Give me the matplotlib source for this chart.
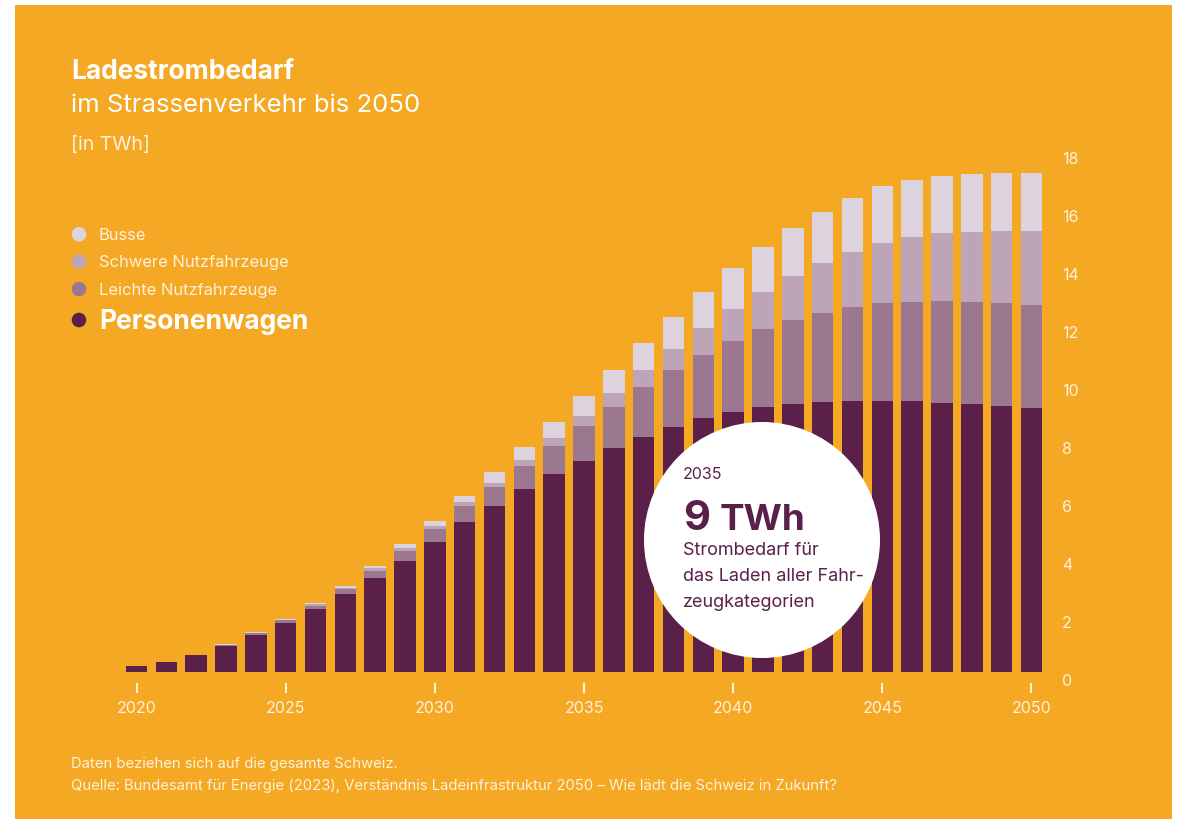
import matplotlib
matplotlib.use("Agg")
import matplotlib.pyplot as plt
from matplotlib.patches import Rectangle, Circle
from matplotlib.transforms import IdentityTransform, offset_copy
import numpy as np

# ---------------- data ----------------
years = list(range(2020, 2051))
personenwagen = [0.21, 0.33, 0.57, 0.91, 1.29, 1.70, 2.16, 2.69, 3.25, 3.83,
                 4.48, 5.17, 5.73, 6.31, 6.82, 7.29, 7.72, 8.11, 8.46, 8.75,
                 8.96, 9.14, 9.24, 9.32, 9.36, 9.36, 9.33, 9.29, 9.23, 9.16, 9.09]
leichte = [0.005, 0.005, 0.01, 0.02, 0.04, 0.08, 0.13, 0.16, 0.24, 0.34,
           0.45, 0.55, 0.64, 0.79, 0.98, 1.19, 1.43, 1.71, 1.95, 2.18,
           2.45, 2.68, 2.90, 3.07, 3.23, 3.36, 3.44, 3.50, 3.53, 3.55, 3.58]
schwere = [0.0, 0.0, 0.0, 0.005, 0.01, 0.02, 0.04, 0.06, 0.08, 0.11,
           0.12, 0.14, 0.16, 0.21, 0.26, 0.35, 0.48, 0.59, 0.73, 0.92,
           1.11, 1.29, 1.52, 1.72, 1.90, 2.08, 2.22, 2.34, 2.42, 2.51, 2.55]
busse = [0.005, 0.005, 0.01, 0.02, 0.03, 0.03, 0.04, 0.07, 0.07, 0.12,
         0.16, 0.21, 0.38, 0.46, 0.57, 0.69, 0.78, 0.95, 1.11, 1.26,
         1.40, 1.56, 1.66, 1.76, 1.87, 1.95, 1.97, 1.96, 1.98, 1.98, 1.98]
ytick_values = [0, 2, 4, 6, 8, 10, 12, 14, 16, 18]
xtick_years = [2020, 2025, 2030, 2035, 2040, 2045, 2050]
legend_labels = ["Busse", "Schwere Nutzfahrzeuge", "Leichte Nutzfahrzeuge", "Personenwagen"]

# ---------------- style ----------------
ORANGE = "#F5A823"
PURPLE = "#5B2049"
C_LEICHTE = "#9B7890"
C_SCHWERE = "#BDA4B6"
C_BUSSE = "#DDD3DC"
CREAM = "#FFF1DC"
FONT = ["Inter", "DejaVu Sans"]
plt.rcParams["font.family"] = FONT

W, H = 1178, 819
fig = plt.figure(figsize=(W / 100, H / 100), dpi=100, facecolor="white")
fig.add_artist(Rectangle((15 / W, 0), (1172 - 15) / W, (H - 5) / H,
                         transform=fig.transFigure, facecolor=ORANGE,
                         edgecolor="none", zorder=-5))

ax = fig.add_axes([121.6 / W, 147 / H, 924.8 / W, 522 / H])
ax.set_facecolor("none")
ax.set_xlim(2019.5, 2050.5)
ax.set_ylim(0, 18)
for s in ax.spines.values():
    s.set_visible(False)

series = [personenwagen, leichte, schwere, busse]
colors = [PURPLE, C_LEICHTE, C_SCHWERE, C_BUSSE]
bottom = np.zeros(len(years))
for vals, col in zip(series, colors):
    ax.bar(years, vals, width=0.724, bottom=bottom, color=col,
           edgecolor="none", linewidth=0)
    bottom = bottom + np.array(vals)

ax.set_yticks([])
ax.set_xticks(xtick_years)
ax.set_xticklabels([str(y) for y in xtick_years], color=CREAM, fontsize=11.5)
ax.tick_params(axis="x", length=0, pad=21.0)

for yr in xtick_years:
    ax.plot([yr, yr], [-11 / 522, -21 / 522], transform=ax.get_xaxis_transform(),
            color=CREAM, lw=1.5, clip_on=False, solid_capstyle="butt")

ytrans = offset_copy(ax.get_yaxis_transform(), fig=fig, x=15.6, y=-10, units="dots")
for v in ytick_values:
    ax.text(1, v, str(v), transform=ytrans, ha="left", va="center",
            color=CREAM, fontsize=11.5)


def ftext(x, y, s, **kw):
    kw.setdefault("va", "baseline")
    return fig.text(x / W, 1 - y / H, s, **kw)


# title
ftext(71, 79.3, "Ladestrombedarf", fontsize=19, weight="bold", color="white")
ftext(71, 111.7, "im Strassenverkehr bis 2050", fontsize=18.5, color="white")
ftext(71, 150, "[in TWh]", fontsize=14, color=CREAM)

# legend
leg_colors = [C_BUSSE, C_SCHWERE, C_LEICHTE, PURPLE]
leg_y = [234.3, 261.7, 289.0, 320.0]
leg_base = [240.0, 267.2, 294.5, 328.6]
for lab, col, cy, by in zip(legend_labels, leg_colors, leg_y, leg_base):
    fig.add_artist(Circle((79, H - cy), 7.3, transform=IdentityTransform(),
                          facecolor=col, edgecolor="none", zorder=3))
    if lab == "Personenwagen":
        ftext(99, by, lab, fontsize=19, weight="bold", color="white")
    else:
        ftext(99, by, lab, fontsize=11.9, color=CREAM)

# callout circle
fig.add_artist(Circle((762, H - 540), 118, transform=IdentityTransform(),
                      facecolor="white", edgecolor="none", zorder=5))
ftext(683, 479, "2035", fontsize=11.5, color=PURPLE, zorder=6)
ftext(683, 530, "9", fontsize=30, weight="bold", color=PURPLE, zorder=6)
ftext(720, 530, "TWh", fontsize=26.5, weight="bold", color=PURPLE, zorder=6)
for txt, by in zip(["Strombedarf für", "das Laden aller Fahr-", "zeugkategorien"],
                   [555, 581, 607]):
    ftext(683, by, txt, fontsize=13, color=PURPLE, zorder=6)

# footer
ftext(71, 768, "Daten beziehen sich auf die gesamte Schweiz.", fontsize=10.7, color=CREAM)
ftext(71, 790, "Quelle: Bundesamt für Energie (2023), Verständnis Ladeinfrastruktur 2050 – "
      "Wie lädt die Schweiz in Zukunft?", fontsize=10.7, color=CREAM)

fig.savefig("out.png", dpi=100, facecolor="white")
